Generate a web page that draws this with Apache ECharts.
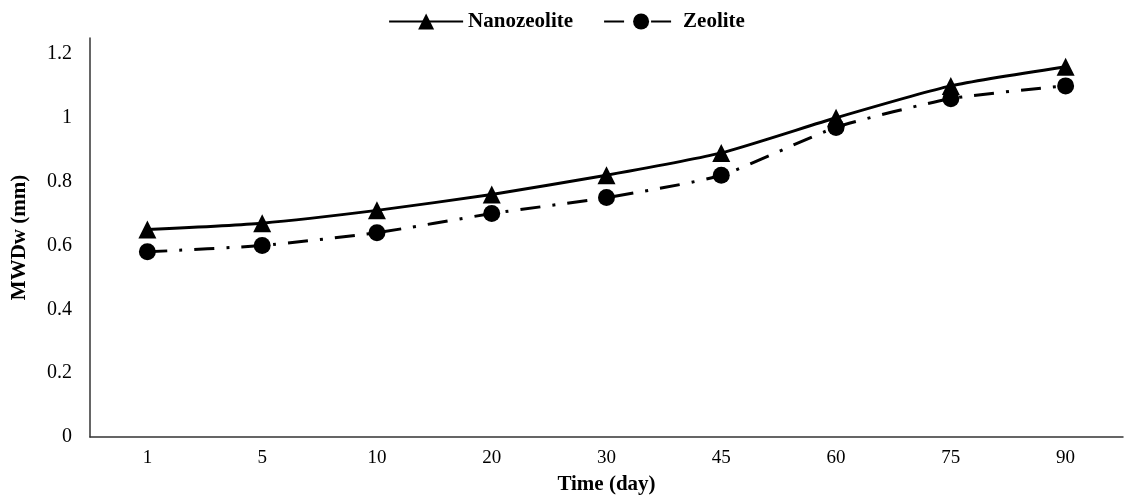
<!DOCTYPE html>
<html>
<head>
<meta charset="utf-8">
<script src="https://cdn.jsdelivr.net/npm/echarts@6/dist/echarts.min.js"></script>
<style>
  html, body { margin: 0; padding: 0; background: #fff; }
  #main { width: 1133px; height: 496px; }
</style>
</head>
<body>
<div id="main"></div>
<script>
// days on the x axis
const days = ['1', '5', '10', '20', '30', '45', '60', '75', '90']
// MWDw (mm)
const nanozeolite = [0.65, 0.67, 0.71, 0.76, 0.82, 0.89, 1.0, 1.10, 1.16]
const zeolite = [0.58, 0.60, 0.64, 0.70, 0.75, 0.82, 0.97, 1.06, 1.10]

const serif = 'Liberation Serif'
const myChart = echarts.init(document.getElementById('main'))

const option = {
  backgroundColor: '#fff',
  animation: false,
  textStyle: { fontFamily: serif, color: '#000' },
  legend: {
    top: 6,
    left: 'center',
    itemWidth: 74,
    itemHeight: 20,
    itemGap: 30,
    textStyle: { fontFamily: serif, fontWeight: 'bold', fontSize: 21, color: '#000' },
    data: ['Nanozeolite', 'Zeolite']
  },
  grid: {
    left: 90,
    right: 10,
    top: 38,
    bottom: 59,
    containLabel: false,
    outerBoundsMode: 'none'
  },
  xAxis: {
    type: 'category',
    data: days,
    name: 'Time (day)',
    nameLocation: 'middle',
    nameGap: 37,
    nameTextStyle: { fontFamily: serif, fontWeight: 'bold', fontSize: 21, color: '#000' },
    axisLine: { lineStyle: { color: '#333', width: 1.5 } },
    axisTick: { show: false },
    axisLabel: { fontFamily: serif, fontSize: 19, color: '#000', margin: 12 }
  },
  yAxis: {
    type: 'value',
    min: 0,
    max: 1.25,
    interval: 0.2,
    name: 'MWDw (mm)',
    nameLocation: 'middle',
    nameGap: 60,
    nameRotate: 90,
    nameTextStyle: { fontFamily: serif, fontWeight: 'bold', fontSize: 21, color: '#000' },
    axisLine: { show: true, lineStyle: { color: '#333', width: 1.5 } },
    axisTick: { show: false },
    splitLine: { show: false },
    axisLabel: {
      fontFamily: serif,
      fontSize: 20,
      color: '#000',
      margin: 18,
      showMaxLabel: false,
      formatter: v => (v === 0 || v === 1) ? String(v) : v.toFixed(1)
    }
  },
  series: [
    {
      name: 'Nanozeolite',
      type: 'line',
      data: nanozeolite,
      smooth: 0.2,
      symbol: 'triangle',
      symbolSize: 18,
      itemStyle: { color: '#000' },
      lineStyle: { color: '#000', width: 3 }
    },
    {
      name: 'Zeolite',
      type: 'line',
      data: zeolite,
      smooth: 0.2,
      symbol: 'circle',
      symbolSize: 17,
      itemStyle: { color: '#000' },
      lineStyle: { color: '#000', width: 3, type: [20, 12, 3, 12] }
    }
  ]
}
option && myChart.setOption(option)
</script>
</body>
</html>
